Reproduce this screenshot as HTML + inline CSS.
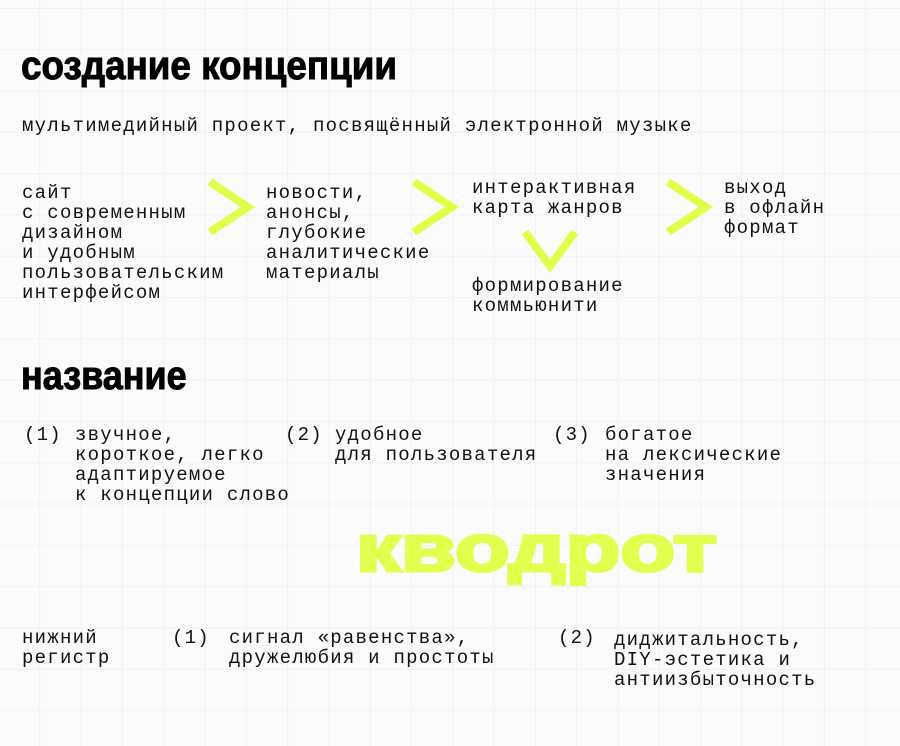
<!DOCTYPE html>
<html><head><meta charset="utf-8"><style>
body{margin:0;width:900px;height:746px;overflow:hidden;background:#fbfbfb;
background-image:linear-gradient(#f1f1f1 1px,transparent 1px),linear-gradient(90deg,#f1f1f1 1px,transparent 1px);
background-size:41.3px 41.3px;background-position:-2px 8px;position:relative;font-family:"Liberation Mono","DejaVu Sans Mono",monospace;color:#111}
.t{position:absolute;font-size:19px;line-height:20px;letter-spacing:1.25px;white-space:pre}
.h{position:absolute;font-family:"Liberation Sans",sans-serif;font-weight:bold;font-size:40px;line-height:40px;transform-origin:0 0;white-space:pre;color:#000;-webkit-text-stroke:1px #000}
.big{position:absolute;left:356px;top:515px;font-family:"Liberation Sans",sans-serif;font-weight:bold;font-size:66px;line-height:66px;color:#e0ff4f;white-space:pre;transform-origin:0 0;transform:scaleX(1.36);-webkit-text-stroke:3px #e0ff4f}
svg{position:absolute;left:0;top:0}
</style></head><body>
<div class="h" style="left:21px;top:46px;transform:scaleX(0.92)">создание концепции</div>
<div class="t" style="left:22px;top:116px">мультимедийный проект, посвящённый электронной музыке</div>
<div class="t" style="left:22px;top:183px">сайт
с современным
дизайном
и удобным
пользовательским
интерфейсом</div>
<div class="t" style="left:266px;top:183px">новости,
анонсы,
глубокие
аналитические
материалы</div>
<div class="t" style="left:472px;top:178px">интерактивная
карта жанров</div>
<div class="t" style="left:472px;top:276px">формирование
коммьюнити</div>
<div class="t" style="left:724px;top:178px">выход
в офлайн
формат</div>
<svg width="900" height="746"><g fill="none" stroke="#e0ff4a" stroke-width="8">
<polyline points="210,182 248,207 210,232"/>
<polyline points="414,182 452,207 414,232"/>
<polyline points="668,182 706,207 668,232"/>
<polyline points="525,232 550,266 575,232"/>
</g></svg>
<div class="h" style="left:21px;top:356px;transform:scaleX(0.9)">название</div>
<div class="t" style="left:24px;top:425px">(1)</div>
<div class="t" style="left:75px;top:425px">звучное,
короткое, легко
адаптируемое
к концепции слово</div>
<div class="t" style="left:285px;top:425px">(2)</div>
<div class="t" style="left:335px;top:425px">удобное
для пользователя</div>
<div class="t" style="left:553px;top:425px">(3)</div>
<div class="t" style="left:605px;top:425px">богатое
на лексические
значения</div>
<div class="big">кводрот</div>
<div class="t" style="left:22px;top:628px">нижний
регистр</div>
<div class="t" style="left:172px;top:628px">(1)</div>
<div class="t" style="left:229px;top:628px">сигнал «равенства»,
дружелюбия и простоты</div>
<div class="t" style="left:558px;top:628px">(2)</div>
<div class="t" style="left:614px;top:630px">диджитальность,
DIY-эстетика и
антиизбыточность</div>
</body></html>
